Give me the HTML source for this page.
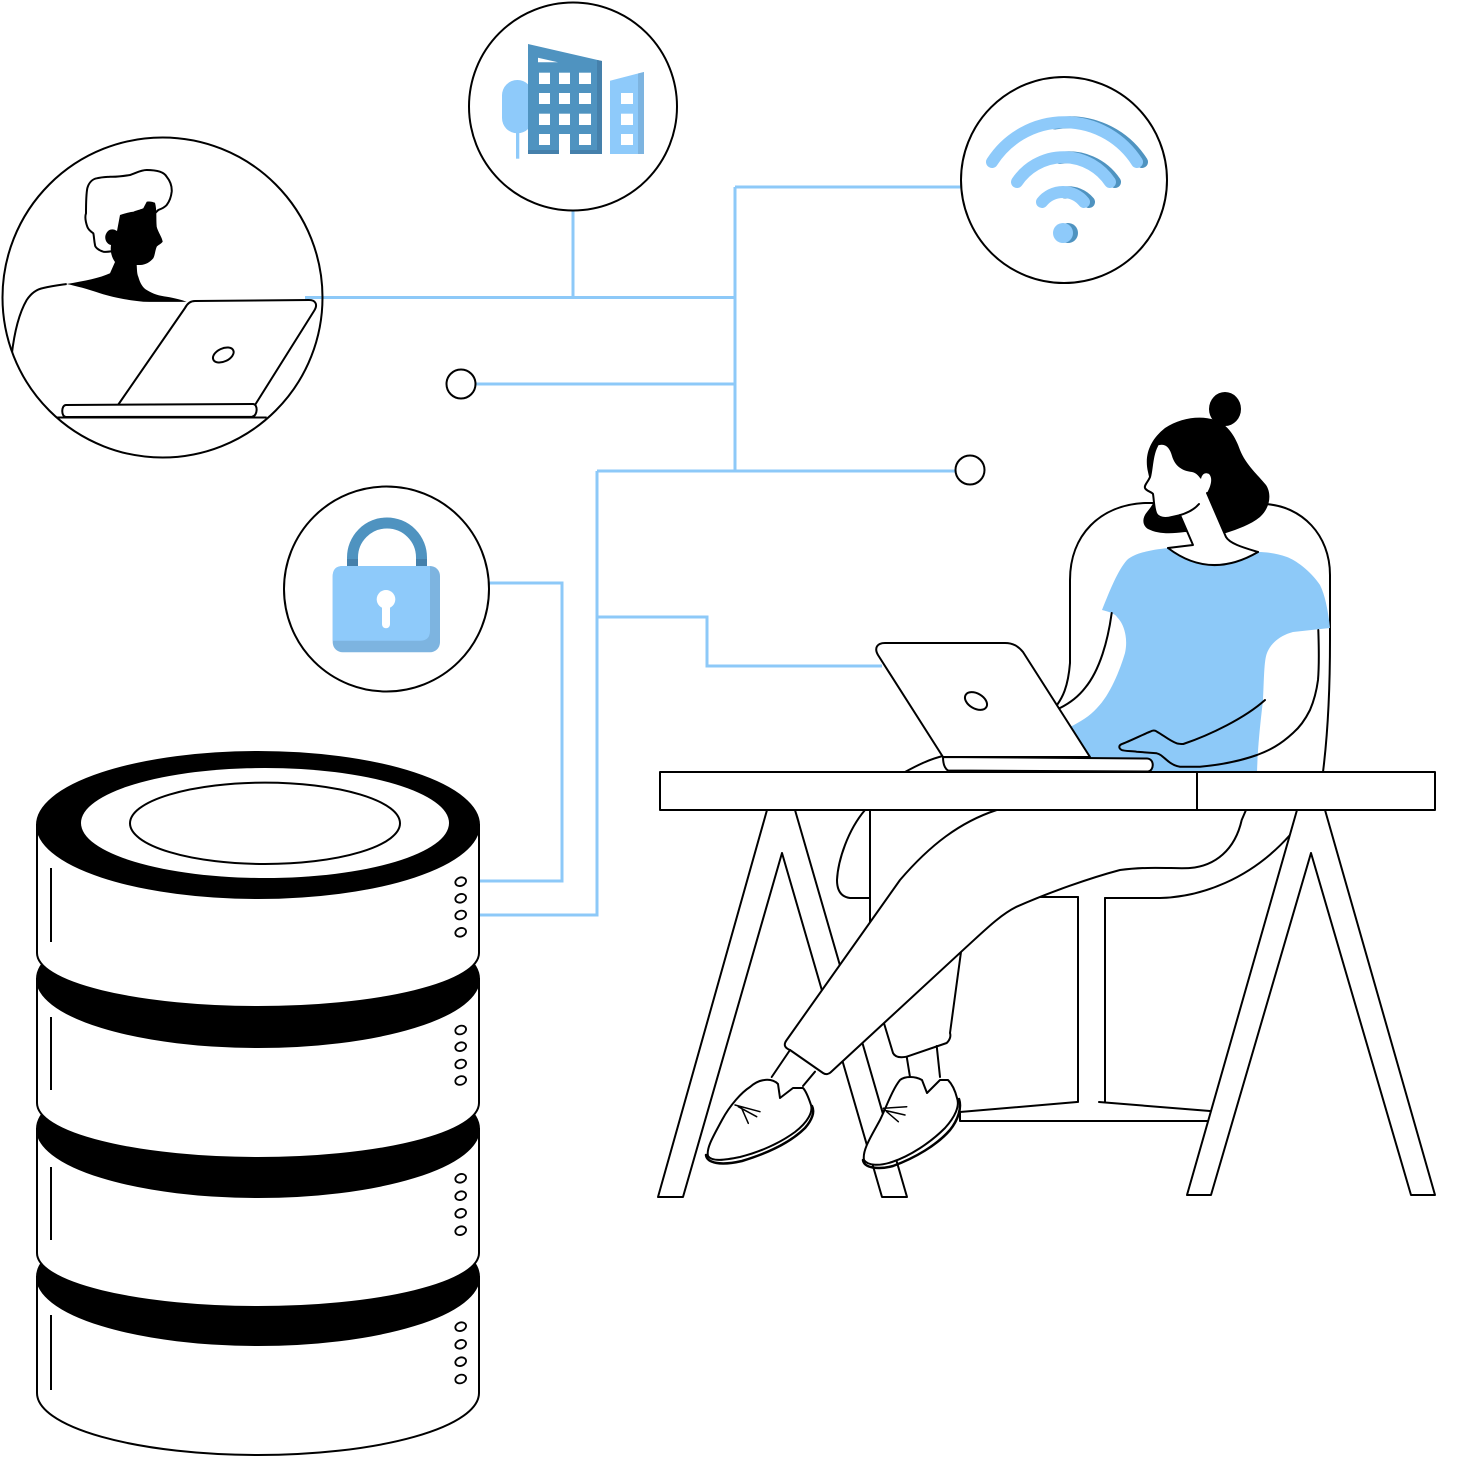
<!DOCTYPE html>
<html><head><meta charset="utf-8"><style>html,body{margin:0;padding:0;background:#fff}svg{display:block}</style></head>
<body>
<svg width="1459" height="1459" viewBox="0 0 1459 1459" xmlns="http://www.w3.org/2000/svg">
<defs>
<clipPath id="mc"><circle cx="162.5" cy="297.5" r="160"/></clipPath>
</defs>
<rect width="1459" height="1459" fill="#fff"/>
<!-- connectors -->
<g fill="none" stroke="#8DC9F8" stroke-width="3">
<path d="M305,297.5 H735"/>
<path d="M573,211 V297.5"/>
<path d="M735,187 V471"/>
<path d="M735,187 H961"/>
<path d="M476,384 H735"/>
<path d="M597,471 H955"/>
<path d="M597,471 V915 H478"/>
<path d="M597,617 H707 V666 H882"/>
<path d="M489,583 H562 V881 H478"/>
</g>
<!-- small circles -->
<g fill="#fff" stroke="#000" stroke-width="2">
<circle cx="461" cy="384" r="14.5"/>
<circle cx="970" cy="470" r="14.5"/>
</g>
<!-- building circle -->
<circle cx="573" cy="106.5" r="104" fill="#fff" stroke="#000" stroke-width="2"/>
<g>
<rect x="502" y="80" width="30.7" height="53.3" rx="15.3" fill="#8ECAFA"/>
<rect x="516" y="120" width="3.3" height="38.7" fill="#8ECAFA"/>
<polygon points="528,44 602,61 602,154 528,154" fill="#4F93C0"/>
<polygon points="597,60 602,61 602,154 597,154" fill="#4580AB"/>
<rect x="528" y="150" width="74" height="4" fill="#4580AB"/>
<polygon points="538,57.7 558,62.3 538,62.3" fill="#fff"/>
<g fill="#fff">
<rect x="539" y="72.7" width="11" height="11.3"/><rect x="559" y="72.7" width="11" height="11.3"/><rect x="579" y="72.7" width="12" height="11.3"/>
<rect x="539" y="93" width="11" height="11"/><rect x="559" y="93" width="11" height="11"/><rect x="579" y="93" width="12" height="11"/>
<rect x="539" y="113.7" width="11" height="11.3"/><rect x="559" y="113.7" width="11" height="11.3"/><rect x="579" y="113.7" width="12" height="11.3"/>
<rect x="539" y="134" width="11" height="11"/><rect x="559" y="134" width="11" height="20"/><rect x="579" y="134" width="12" height="11"/>
</g>
<polygon points="610,80.7 644,72 644,154 610,154" fill="#8ECAFA"/>
<polygon points="638,73.5 644,72 644,154 638,154" fill="#7DB4E0"/>
<g fill="#fff"><rect x="621" y="93" width="12" height="11"/><rect x="621" y="113.7" width="12" height="11.3"/><rect x="621" y="134" width="12" height="11"/></g>
</g>
<!-- wifi circle -->
<circle cx="1064" cy="180" r="103" fill="#fff" stroke="#000" stroke-width="2"/>
<g fill="none" stroke-linecap="round" stroke-width="12">
<g stroke="#4F93C0" transform="translate(5,0)">
<path d="M1050,123.5 A86,86 0 0 1 1137,162"/>
<path d="M1055,158 A56,56 0 0 1 1110,182"/>
<path d="M1060,192.5 A27,27 0 0 1 1084,202"/>
</g>
<g stroke="#8ECAFA">
<path d="M992,162 A86,86 0 0 1 1137,162"/>
<path d="M1017,182 A56,56 0 0 1 1110,182"/>
<path d="M1042,202 A27,27 0 0 1 1084,202"/>
</g>
</g>
<circle cx="1068" cy="233" r="10" fill="#4F93C0"/>
<circle cx="1063" cy="233" r="10" fill="#8ECAFA"/>
<!-- lock circle -->
<circle cx="386.5" cy="589" r="102.5" fill="#fff" stroke="#000" stroke-width="2"/>
<path d="M352.5,568 V557.5 A34.5,34.5 0 0 1 421.5,557.5 V568" fill="none" stroke="#4F93C0" stroke-width="11"/>
<rect x="347" y="559" width="11" height="8" fill="#4580AB"/>
<rect x="416" y="559" width="11" height="8" fill="#4580AB"/>
<rect x="332.7" y="566" width="107.3" height="86.3" rx="10" fill="#7DB4E0"/>
<path d="M342.7,566 H430 V630.7 Q430,640.7 420,640.7 H332.7 V576 Q332.7,566 342.7,566 Z" fill="#8ECAFA"/>
<circle cx="386" cy="599.3" r="9.3" fill="#fff"/>
<rect x="382" y="599" width="8" height="29.3" rx="4" fill="#fff"/>
<!-- man circle -->
<circle cx="162.5" cy="297.5" r="160" fill="#fff"/>
<g clip-path="url(#mc)" stroke="#000" stroke-width="2" stroke-linejoin="round">
<path d="M0,480 L0,400 L11.7,355 C14,335 18,315 26.7,300 C32,292 38,289 43.3,288 C52,286 60,285 66.7,284 L186.7,301.7 L200,480 Z" fill="#fff" stroke="none"/>
<path d="M0,400 L11.7,355 C14,335 18,315 26.7,300 C32,292 38,289 43.3,288 C52,286 60,285 66.7,284" fill="none"/>
<path d="M116.7,250 C110,252 106,252 103.3,251.7 C98,250 95,247 95,245 C94,240 94,236 93.3,233.3 C90,231 88,229 87.3,226.7 C85,220 85,216 86,213.3 C86,205 86,195 87.3,188.3 C89,182 93,179 96.7,178.3 C102,177 106,177 110,176.7 C118,177 124,176 130,175 C136,173 141,170 146.7,170 C156,170 164,172 166.7,176.7 C171,182 172,187 171.7,191.7 C171,198 169,202 166.7,205 C164,208 161,209 158.3,210 Z" fill="#fff"/>
<path d="M66.7,284 C85,281 100,278 110,273.3 L115,262 C112,258 110,252 111,245 C106,244 104,238 106,234 C108,229 113,228 117,231 L120,215 C126,213 130,212 133.3,211.7 C138,210 142,209 143.3,208.3 L146.7,201.7 C150,201 153,202 155,202.7 C157,210 156,218 156.7,226.7 C158,232 162,237 162.7,241.7 C161,244 158,245 156.7,246.7 C155,251 155,255 153.3,258.3 C150,262 146,265 140,265 L136.7,265 C137,270 137,274 138.3,276.7 C140,283 143,288 146.7,290 C153,294 160,296 166.7,296.7 C175,298 182,300 186.7,301.7 C172,302 160,302 143.3,301.7 C125,300 112,297 100,293.3 C88,289 76,286 66.7,284 Z" fill="#000" stroke="none"/>
<path d="M195,301 L309,300 C316,300 318,305 314,311 L255,405 L118,405 L185,308 C187,304 190,301 195,301 Z" fill="#fff"/>
<ellipse cx="223.3" cy="355" rx="11" ry="6.5" transform="rotate(-25 223.3 355)" fill="#fff"/>
<path d="M66,405 L253,404 C258,404 258,416 252,416.7 L66,417 C61,417 61,405 66,405 Z" fill="#fff"/>
<path d="M56.7,417.5 H266.7" fill="none"/>
</g>
<path d="M305,297.5 H323" stroke="#8DC9F8" stroke-width="3" fill="none"/>
<circle cx="162.5" cy="297.5" r="160" fill="none" stroke="#000" stroke-width="2"/>
<!-- database -->
<g stroke="#000" stroke-width="2">
<path d="M37,1277 L37,1393 A221,62 0 0 0 479,1393 L479,1277 Z" fill="#fff"/>
<ellipse cx="258" cy="1277" rx="221" ry="68" fill="#000"/>
<path d="M37,1129 L37,1253 A221,54 0 0 0 479,1253 L479,1129 Z" fill="#fff"/>
<ellipse cx="258" cy="1129" rx="221" ry="68" fill="#000"/>
<path d="M37,979 L37,1103 A221,55 0 0 0 479,1103 L479,979 Z" fill="#fff"/>
<ellipse cx="258" cy="979" rx="221" ry="68" fill="#000"/>
<path d="M37,825 L37,953 A221,54 0 0 0 479,953 L479,825 Z" fill="#fff"/>
<ellipse cx="258" cy="825" rx="221" ry="73" fill="#000"/>
<ellipse cx="265" cy="823" rx="184" ry="55" fill="#fff" stroke="none"/>
<ellipse cx="265" cy="823.3" rx="135" ry="40.7" fill="none"/>
<path d="M51,868 V942 M51,1017 V1090 M51,1167 V1240 M51,1315 V1390" fill="none"/>
</g>
<g fill="#fff" stroke="#000" stroke-width="1.8">
<ellipse cx="460.7" cy="881.7" rx="5.5" ry="4.2" transform="rotate(-20 460.7 881.7)"/>
<ellipse cx="460.7" cy="898.3" rx="5.5" ry="4.2" transform="rotate(-20 460.7 898.3)"/>
<ellipse cx="460.7" cy="915" rx="5.5" ry="4.2" transform="rotate(-20 460.7 915)"/>
<ellipse cx="460.7" cy="932.3" rx="5.5" ry="4.2" transform="rotate(-20 460.7 932.3)"/>
<ellipse cx="460.7" cy="1030" rx="5.5" ry="4.2" transform="rotate(-20 460.7 1030)"/>
<ellipse cx="460.7" cy="1046.7" rx="5.5" ry="4.2" transform="rotate(-20 460.7 1046.7)"/>
<ellipse cx="460.7" cy="1064" rx="5.5" ry="4.2" transform="rotate(-20 460.7 1064)"/>
<ellipse cx="460.7" cy="1080.5" rx="5.5" ry="4.2" transform="rotate(-20 460.7 1080.5)"/>
<ellipse cx="460.7" cy="1178.3" rx="5.5" ry="4.2" transform="rotate(-20 460.7 1178.3)"/>
<ellipse cx="460.7" cy="1195.7" rx="5.5" ry="4.2" transform="rotate(-20 460.7 1195.7)"/>
<ellipse cx="460.7" cy="1213.3" rx="5.5" ry="4.2" transform="rotate(-20 460.7 1213.3)"/>
<ellipse cx="460.7" cy="1230.7" rx="5.5" ry="4.2" transform="rotate(-20 460.7 1230.7)"/>
<ellipse cx="460.7" cy="1326.7" rx="5.5" ry="4.2" transform="rotate(-20 460.7 1326.7)"/>
<ellipse cx="460.7" cy="1344.3" rx="5.5" ry="4.2" transform="rotate(-20 460.7 1344.3)"/>
<ellipse cx="460.7" cy="1361.7" rx="5.5" ry="4.2" transform="rotate(-20 460.7 1361.7)"/>
<ellipse cx="460.7" cy="1379" rx="5.5" ry="4.2" transform="rotate(-20 460.7 1379)"/>
</g>
<!-- woman -->
<g stroke="#000" stroke-width="2" stroke-linejoin="round" stroke-linecap="round">
<!-- chair back -->
<path d="M1057,705 C1062,698 1068,688 1070,663 L1070,580 C1070,535 1100,505 1145,503 L1160,503" fill="none"/>
<path d="M1255,504 L1265,504 C1302,506 1330,535 1330,575 L1330,640 C1330,700 1327,740 1323,772" fill="none"/>
<!-- shirt -->
<path d="M1168,548 C1150,550 1135,553 1127,560 C1118,570 1110,590 1102,610 C1110,612 1115,614 1117,617 C1125,625 1128,640 1125,653 C1120,670 1110,695 1097,708 C1090,716 1080,722 1070,727 L1060,745 L1095,772 L1257,772 C1258,740 1262,710 1263,700 C1264,680 1264,660 1267,653 C1270,645 1278,636 1293,632 L1330,628 C1328,610 1325,595 1320,585 C1310,570 1295,560 1287,557 C1275,553 1265,552 1258,552 Q1210,580 1168,548 Z" fill="#8DC9F8" stroke="none"/>
<path d="M1233,810 L1247,810 L1241.7,820 Z" fill="#8DC9F8" stroke="none"/>
<!-- hair -->
<path d="M1148,472 C1144,455 1150,440 1165,428 C1180,418 1200,415 1215,420 C1228,424 1236,438 1240,450 C1246,465 1258,475 1266,485 C1272,494 1270,508 1260,517 C1250,525 1238,529 1226,533 L1200,533 L1185,532 C1170,534 1158,534 1148,529 C1142,525 1142,518 1147,512 C1150,508 1153,505 1154,500 Z" fill="#000" stroke="none"/>
<ellipse cx="1225" cy="409" rx="16" ry="17" fill="#000" stroke="none"/>
<path d="M1212,418 L1230,424 L1222,400 Z" fill="#000" stroke="none"/>
<!-- face + neck -->
<path d="M1157,446 C1165,442 1170,448 1172,456 C1175,466 1182,471 1192,472 C1197,473 1199,477 1201,479 C1202,474 1205,472 1209,474 C1213,478 1211,486 1207,493 L1226,537 C1230,544 1245,548 1258,552 Q1210,580 1168,548 L1193,545 L1180,515 C1175,516 1165,519 1160,518 C1155,516 1154,508 1153,494 C1152,492 1146,491 1145,488 C1144,485 1148,482 1150,477 C1152,470 1152,455 1157,446 Z" fill="#fff" stroke="none"/>
<path d="M1157,446 C1152,455 1152,470 1150,477 C1148,482 1144,485 1145,488 C1146,491 1152,492 1153,494 C1154,500 1154,508 1156,513 C1158,518 1165,519 1172,517 C1183,515 1193,511 1199,504" fill="none"/>
<path d="M1180,515 L1193,545 L1168,548" fill="none"/>
<path d="M1168,548 Q1210,580 1258,552" fill="none"/>
<path d="M1207,493 L1226,537 C1230,544 1245,548 1258,552" fill="none"/>
<!-- arms -->
<path d="M1111.7,613 C1108,640 1100,670 1085,688 C1078,697 1068,704 1060,708" fill="none"/>
<path d="M1318.3,630 C1319,650 1319,668 1318,680 C1316,695 1313,703 1310,710 C1305,720 1300,727 1293,733 C1280,745 1270,750 1257,755 C1240,761 1220,765 1200,766.7 L1180,766.7 C1175,766 1170,763 1166.7,760 C1162,756 1160,754 1156.7,753.3 L1136.7,751.7 C1130,751 1124,751 1121.7,750 C1118,748 1119,745 1122,744 C1130,741 1142,735 1150,731.7 C1153,730 1155,730 1157,731.7 C1163,735 1170,741 1176.7,743.3 C1179,744 1181,744 1183.3,744 C1210,735 1245,718 1265,700" fill="none"/>
<!-- chair seat -->
<path d="M865,810 C848,830 838,860 837,880 C837,892 842,897 850,898 L870,898" fill="none"/>
<path d="M1036,897 L1078,897 M1105,898 L1160,898 C1200,897 1250,880 1290,835" fill="none"/>
<path d="M1078,897 V1102 M1105,898 V1102" fill="none"/>
<path d="M1077,1102 L960,1112 L960,1121 L1207,1121 M1099,1102 L1210,1111" fill="none"/>
<!-- table legs -->
<polygon points="767,810 658,1197 683,1197 782,853 882,1197 907,1197 795,810" fill="#fff"/>
<polygon points="1297,810 1187,1195 1211,1195 1311,853 1411,1195 1435,1195 1325,810" fill="#fff"/>
<!-- back leg -->
<path d="M870,810 L870,923 L883,1020 L893,1053 C895,1057 900,1058 906.7,1056.7 L946.7,1043 C950,1040 951,1036 950,1033 L961.7,946.7 L962,880 L960,810 Z" fill="#fff" stroke="none"/>
<path d="M870,810 L870,923 M883,1020 L893,1053 C895,1057 900,1058 906.7,1056.7 L946.7,1043 C950,1040 951,1036 950,1033 L961.7,946.7" fill="none"/>
<path d="M906.7,1056.7 L910,1077 M936.7,1046 L940,1077" fill="none"/>
<!-- front leg -->
<path d="M996.7,810 C960,822 930,845 900,880 L786.7,1040 C783,1045 785,1048 790,1050 L823,1073 C826,1075 829,1074 831,1072 L966.7,946.7 C985,930 1000,915 1016.7,906.7 C1050,892 1090,878 1120,870 C1150,866 1175,869 1190,868 C1215,866 1235,850 1241.7,820 L1246,810 Z" fill="#fff" stroke="none"/>
<path d="M996.7,810 C960,822 930,845 900,880 L786.7,1040 C783,1045 785,1048 790,1050 L823,1073 C826,1075 829,1074 831,1072 L966.7,946.7 C985,930 1000,915 1016.7,906.7 C1050,892 1090,878 1120,870 C1150,866 1175,869 1190,868 C1215,866 1235,850 1241.7,820 L1246,810" fill="none"/>
<path d="M790,1050 L771.7,1077 M815,1071.7 L803,1086" fill="none"/>
<!-- shoes -->
<path d="M706,1155 C707,1163 720,1166 742,1161 C765,1154 790,1143 805,1128 C812,1120 815,1112 812,1106" fill="none" stroke-width="2.5"/>
<path d="M750,1087 C742,1092 730,1105 722,1120 C714,1135 706,1148 708,1156 C712,1162 725,1160 740,1157 C760,1152 780,1143 795,1132 C808,1122 813,1112 811,1105 C808,1096 805,1090 803,1088 L793,1088 L780,1098 L778,1084 C772,1078 760,1078 750,1087 Z" fill="#fff"/>
<path d="M735,1105 L760,1111.7 M738.3,1106.7 L756.7,1116.7 M741.7,1108.3 L748.3,1123.3" fill="none" stroke-width="1.5"/>
<path d="M863,1160 C864,1168 878,1170 893,1166 C915,1158 937,1145 950,1130 C958,1120 962,1108 959,1099" fill="none" stroke-width="2.5"/>
<path d="M880,1120 C872,1135 862,1150 864,1160 C868,1166 880,1166 892,1162 C910,1156 930,1143 945,1128 C955,1117 960,1106 957,1098 C955,1090 952,1084 948,1080 L940,1080 L927,1093 L922,1080 C915,1076 905,1076 900,1080 C892,1090 886,1108 880,1120 Z" fill="#fff"/>
<path d="M883.3,1108.3 L906.7,1106.7 M883.3,1110 L905,1115 M886.7,1111.7 L898.3,1121.7" fill="none" stroke-width="1.5"/>
<!-- table top -->
<rect x="660" y="772" width="775" height="38" fill="#fff"/>
<path d="M1197,772 V810" fill="none"/>
<!-- laptop -->
<path d="M905,772 C918,765 930,759 943,756" fill="none"/>
<path d="M885,643 L1005,643 C1013,643 1018,646 1023,652 L1090,757 L943,757 L878,655 C874,648 877,643 885,643 Z" fill="#fff"/>
<ellipse cx="976" cy="701" rx="12" ry="7.5" transform="rotate(30 976 701)" fill="#fff"/>
<path d="M943,757 L1147,758.5 C1155,759 1154,771 1148,771.5 L948,770.5 C944,768 943,762 943,757 Z" fill="#fff"/>
</g>
</svg>
</body></html>
